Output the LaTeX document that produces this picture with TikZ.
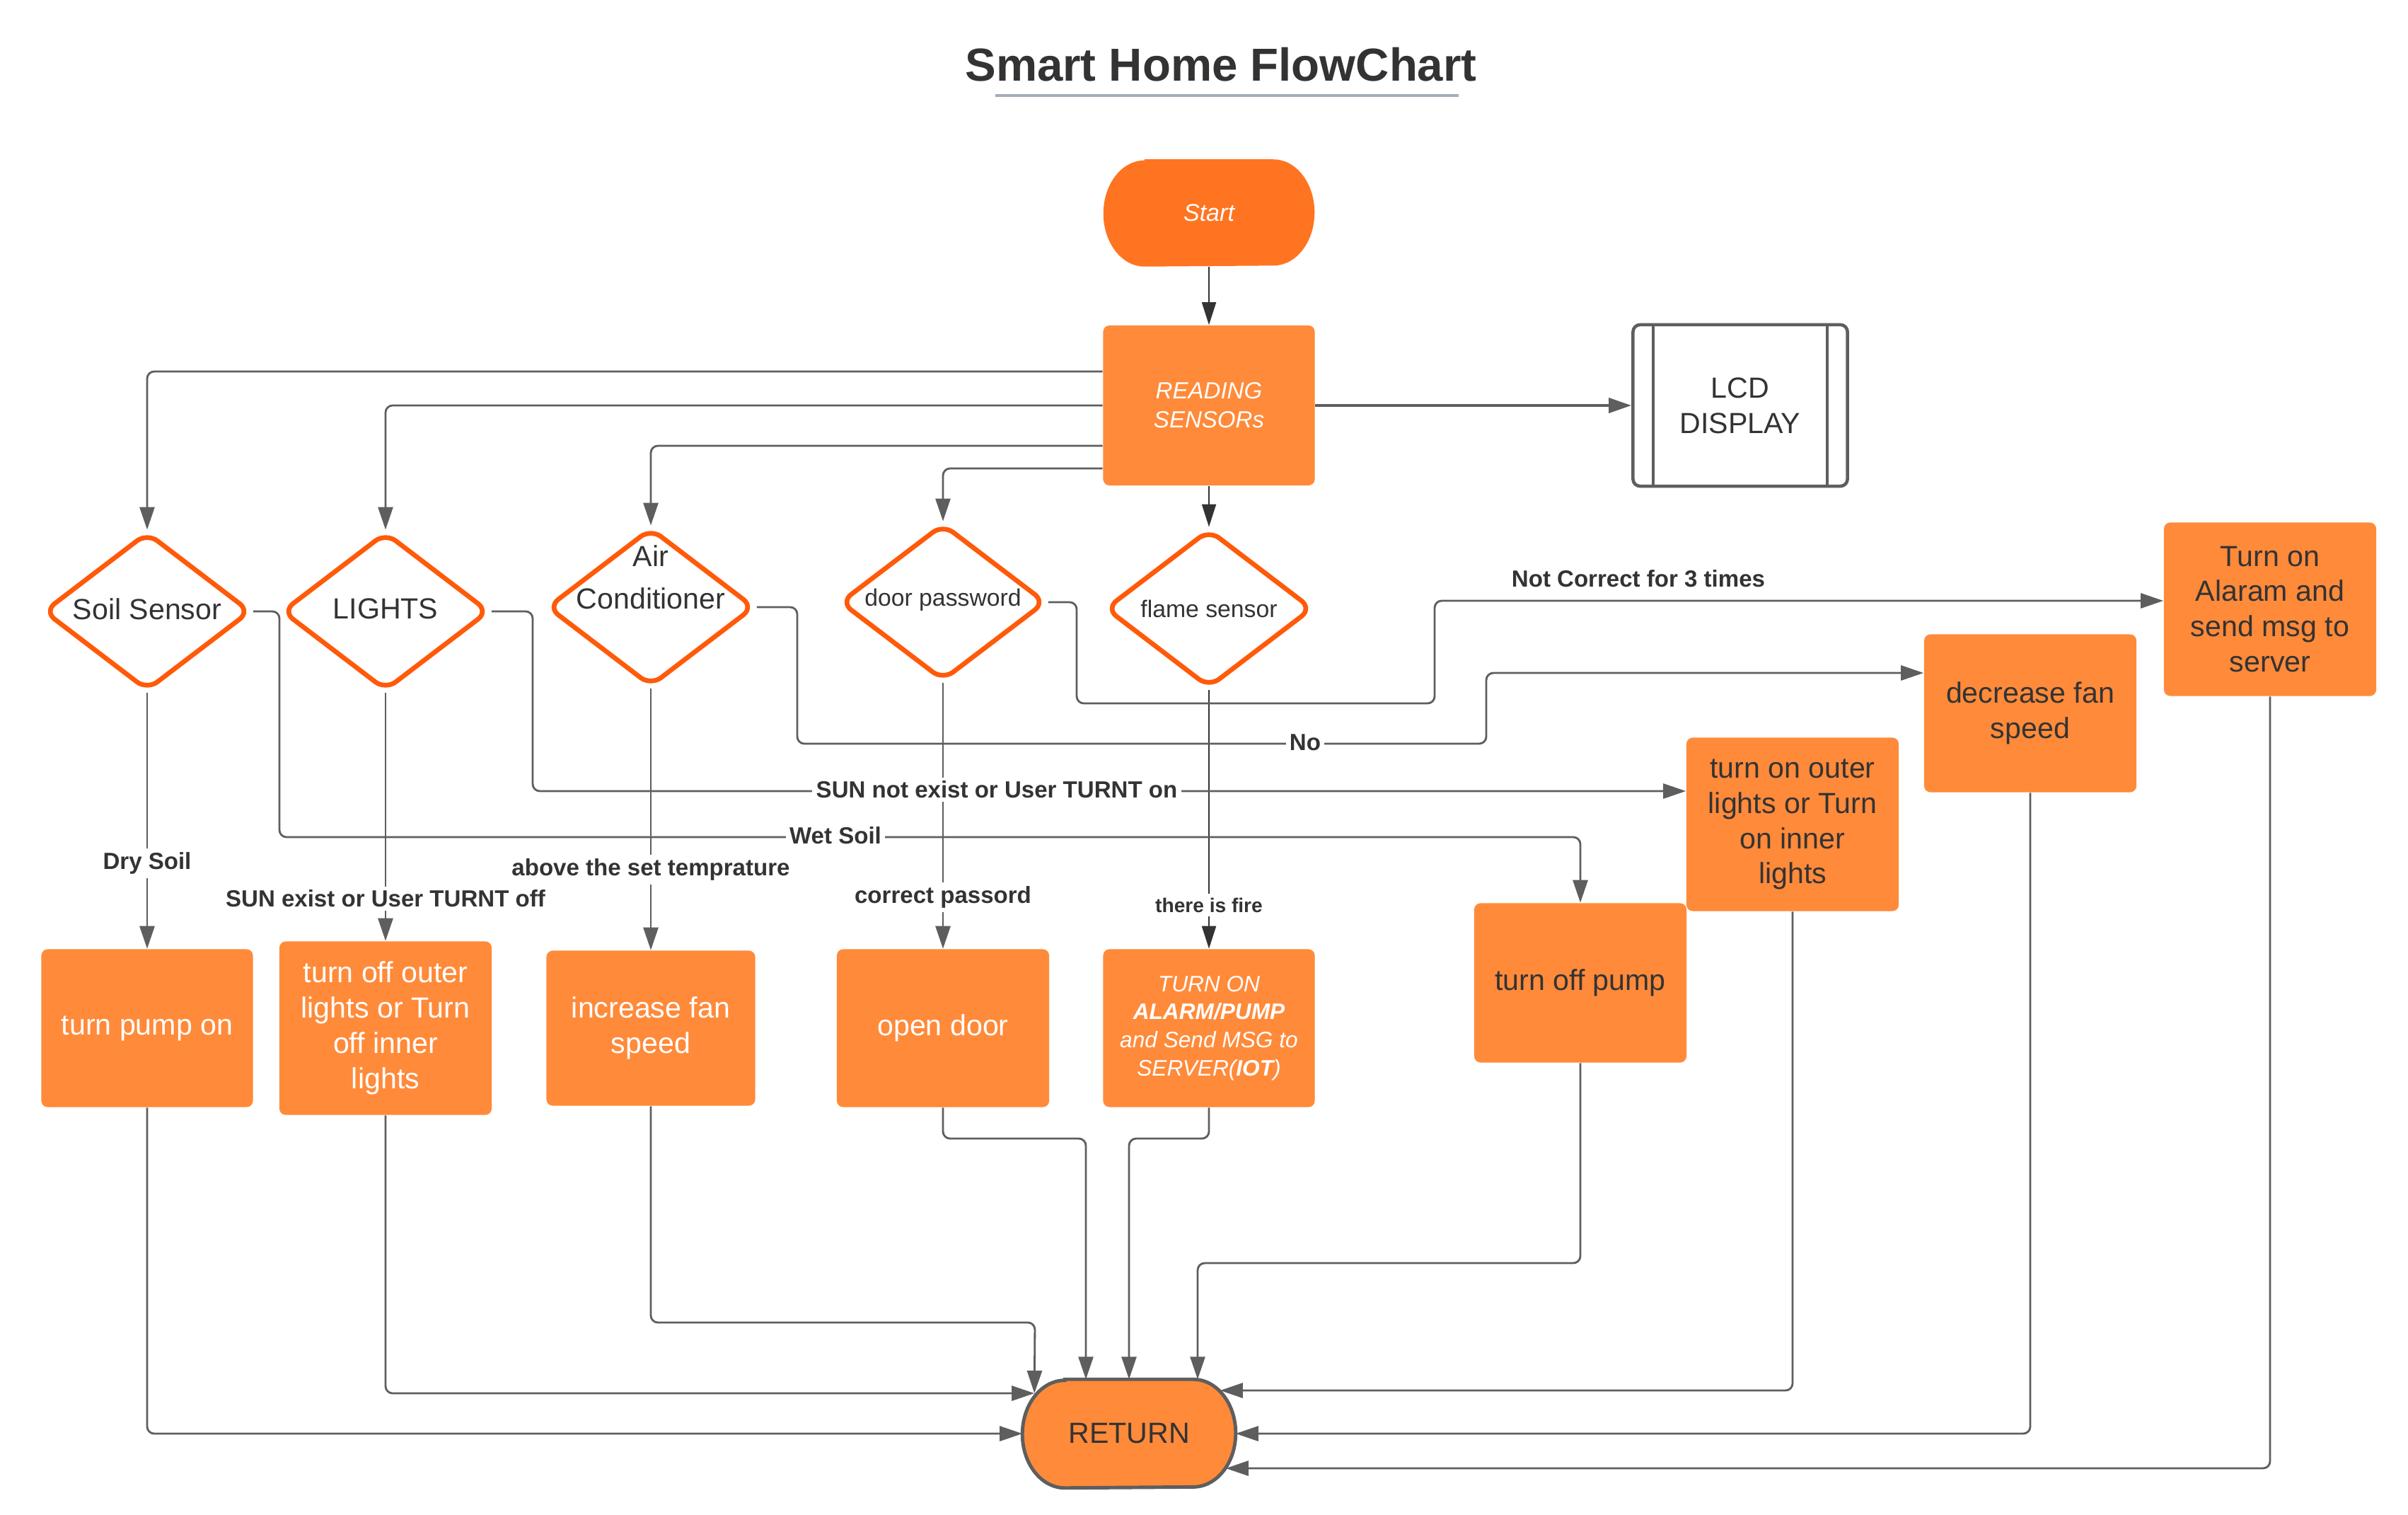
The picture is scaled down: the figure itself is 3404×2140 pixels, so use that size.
\documentclass[tikz,border=0pt]{standalone}
\usepackage{fontspec}
\setmainfont{Liberation Sans}
\usetikzlibrary{shapes.geometric,arrows.meta,calc}
\pgfdeclarelayer{background}
\pgfsetlayers{background,main}
\definecolor{boxor}{HTML}{FF8A3A}
\definecolor{startor}{HTML}{FF7420}
\definecolor{diaor}{HTML}{FF5A0A}
\definecolor{lgray}{HTML}{5E5E5E}
\definecolor{dgray}{HTML}{333333}
\definecolor{txt}{HTML}{333333}
\definecolor{uline}{HTML}{A5ADBA}
\newcommand\nodefont{\fontsize{11.7pt}{14.2pt}\selectfont}
\newcommand\labfont{\bfseries\fontsize{9.4pt}{11pt}\selectfont}
\begin{document}
\begin{tikzpicture}[x=0.01cm,y=-0.01cm,
  titlestyle/.style={text=txt, font=\bfseries\fontsize{18.6pt}{22pt}\selectfont, inner sep=0pt},
  box/.style={rectangle, rounded corners=0.9mm, fill=boxor, minimum width=3cm, minimum height=2.23cm, inner sep=1pt, align=center, font=\nodefont},
  wtxt/.style={text=white},
  dtxt/.style={text=txt},
  stad/.style={rectangle, inner sep=0pt, align=center},
  dia/.style={diamond, draw=diaor, line width=1.9pt, rounded corners=1.8mm, fill=white, minimum width=2.93cm, minimum height=2.24cm, inner sep=0pt},
  dlab/.style={text=txt, font=\nodefont, align=center, inner sep=0pt},
  conn/.style={draw=lgray, line width=0.8pt, rounded corners=1mm, -{Triangle[length=3.2mm,width=2.1mm]}},
  darkconn/.style={draw=dgray, line width=0.55pt, -{Triangle[length=3.2mm,width=2mm]}},
  elab/.style={fill=white, text=txt, font=\labfont, inner sep=1.5pt}
]
\useasboundingbox (0,0) rectangle (3404,2140);

% title
\node[titlestyle] (title) at (1726,91) {Smart Home FlowChart};
\draw[uline, line width=1pt] (1407,135) -- (2062,135);

% start and reading
\node[stad, minimum width=2.97cm, minimum height=1.5cm, text=white, font=\itshape\fontsize{9.7pt}{12pt}\selectfont] (start) at (1709,301) {Start};
\node[box, wtxt, minimum width=2.99cm, minimum height=2.26cm, font=\itshape\fontsize{9.4pt}{11.7pt}\selectfont] (reading) at (1709,573) {READING\\SENSORs};
\node[rectangle, draw=lgray, fill=white, line width=1.3pt, rounded corners=1mm, minimum width=3.03cm, minimum height=2.28cm, text=txt, align=center, font=\nodefont] (lcd) at (2460,573) {LCD\\DISPLAY};
\draw[lgray, line width=1.3pt] ([xshift=3.1mm]lcd.north west) -- ([xshift=3.1mm]lcd.south west);
\draw[lgray, line width=1.3pt] ([xshift=-3.1mm]lcd.north east) -- ([xshift=-3.1mm]lcd.south east);

% diamonds
\node[dia, label={[dlab, yshift=1pt]center:Soil Sensor}] (soil) at (208,864) {};
\node[dia, label={[dlab, yshift=1pt]center:LIGHTS}] (lights) at (545,864) {};
\node[dia, label={[dlab, yshift=12pt, font=\fontsize{11.7pt}{17pt}\selectfont]center:Air\\Conditioner}] (air) at (920,858) {};
\node[dia, minimum width=2.91cm, minimum height=2.22cm, label={[dlab, yshift=1pt, font=\fontsize{9.6pt}{12pt}\selectfont]center:door password}] (door) at (1333,851) {};
\node[dia, label={[dlab, font=\fontsize{9.6pt}{12pt}\selectfont]center:flame sensor}] (flame) at (1709,860) {};

% action boxes
\node[box, wtxt, minimum width=2.99cm, minimum height=2.23cm] (pumpon) at (208,1453) {turn pump on};
\node[box, wtxt, minimum width=3.0cm, minimum height=2.45cm] (offlights) at (545,1453) {turn off outer\\lights or Turn\\off inner\\lights};
\node[box, wtxt, minimum width=2.95cm, minimum height=2.19cm] (incfan) at (920,1453) {increase fan\\speed};
\node[box, wtxt, minimum width=3.0cm, minimum height=2.23cm] (opendoor) at (1333,1453) {open door};
\node[box, wtxt, minimum width=2.99cm, minimum height=2.23cm, font=\itshape\fontsize{9pt}{11.3pt}\selectfont] (alarm) at (1709,1453) {TURN ON\\\textbf{ALARM/PUMP}\\and Send MSG to\\SERVER(\textbf{IOT})};
\node[box, dtxt, minimum width=3.0cm, minimum height=2.25cm] (offpump) at (2234,1389) {turn off pump};
\node[box, dtxt, minimum width=3.0cm, minimum height=2.45cm] (onlights) at (2534,1165) {turn on outer\\lights or Turn\\on inner\\lights};
\node[box, dtxt, minimum width=3.0cm, minimum height=2.23cm] (decfan) at (2870,1008) {decrease fan\\speed};
\node[box, dtxt, minimum width=3.0cm, minimum height=2.45cm] (alaram) at (3209,861) {Turn on\\Alaram and\\send msg to\\server};

% return
\node[stad, minimum width=3.0cm, minimum height=1.52cm, text=txt, font=\nodefont] (ret) at (1596,2026) {RETURN};
\coordinate (retUL) at ([shift={(17,-57)}]ret.west);
\coordinate (retUR) at ([shift={(-22,-61)}]ret.east);
\coordinate (retLR) at ([shift={(-14,49)}]ret.east);

\begin{pgfonlayer}{background}
\fill[startor] ([xshift=5.8mm]start.north west) -- ([xshift=-5.8mm]start.north east)
  arc[start angle=90,end angle=-90,x radius=5.8mm,y radius=7.5mm]
  -- ([xshift=5.8mm]start.south west)
  arc[start angle=270,end angle=90,x radius=5.8mm,y radius=7.5mm] -- cycle;
\draw[fill=boxor, draw=lgray, line width=1.4pt] ([xshift=6mm]ret.north west) -- ([xshift=-6mm]ret.north east)
  arc[start angle=90,end angle=-90,x radius=6mm,y radius=7.6mm]
  -- ([xshift=6mm]ret.south west)
  arc[start angle=270,end angle=90,x radius=6mm,y radius=7.6mm] -- cycle;
\end{pgfonlayer}

% connectors from start / reading
\draw[darkconn] (start.south) -- (reading.north);
\draw[conn, line width=1.1pt] (reading.east) -- (lcd.west);
\draw[conn] (reading.west |- 0,525) -| (soil.north);
\draw[conn] (reading.west) -| (lights.north);
\draw[conn] (reading.west |- 0,630) -| (air.north);
\draw[conn] (reading.west |- 0,662) -| (door.north);
\draw[darkconn] (reading.south) -- (flame.north);

% decisions to actions (down)
\draw[conn] (soil.south) -- (pumpon.north);
\draw[conn] (lights.south) -- (offlights.north);
\draw[conn] (air.south) -- (incfan.north);
\draw[conn] (door.south) -- (opendoor.north);
\draw[darkconn] (flame.south) -- (alarm.north);

% decisions to actions (right)
\draw[conn] (soil.east) -- (395,864) |- (2234,1183) -- (offpump.north);
\draw[conn] (lights.east) -- (753,864) |- (onlights.west |- 0,1118);
\draw[conn] (air.east) -- (1127,858) |- (2101,1051) |- (decfan.west |- 0,951);
\draw[conn] (door.east) -- (1522,851) |- (2028,994) |- (alaram.west |- 0,849);

% actions to return
\draw[conn] (pumpon.south) |- (ret.west);
\draw[conn] (offlights.south) |- (retUL);
\draw[conn] (incfan.south) |- (1463,1869) -- (retUL);
\draw[conn] (opendoor.south) |- (1535,1609) -- (1535,1609 |- ret.north);
\draw[conn] (alarm.south) |- (1596,1609) -- (ret.north);
\draw[conn] (offpump.south) |- (1693,1785) -- (1693,1785 |- ret.north);
\draw[conn] (onlights.south) |- (retUR);
\draw[conn] (decfan.south) |- (ret.east);
\draw[conn] (alaram.south) |- (retLR);

% edge labels
\node[elab] (lwet) at (1181,1181) {Wet Soil};
\node[elab] (lsunon) at (1409,1116) {SUN not exist or User TURNT on};
\node[elab] (lno) at (1845,1049) {No};
\node[elab] (lnot) at (2316,818) {Not Correct for 3 times};
\node[elab] (ldry) at (208,1220) {Dry Soil};
\node[elab] (lsunoff) at (545,1270) {SUN exist or User TURNT off};
\node[elab] (labove) at (920,1229) {above the set temprature};
\node[elab] (lcorr) at (1333,1268) {correct passord};
\node[elab, font=\bfseries\fontsize{8pt}{10pt}\selectfont] (lfire) at (1709,1279) {there is fire};
\end{tikzpicture}
\end{document}
